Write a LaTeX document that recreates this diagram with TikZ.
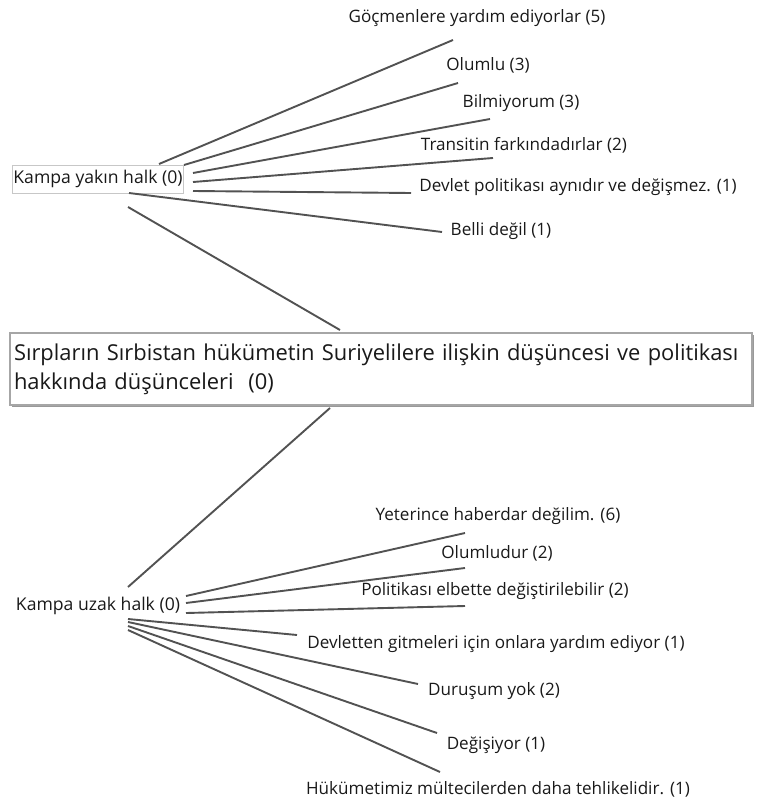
\documentclass[tikz,border=0pt]{standalone}
\usepackage{fontspec}
\setmainfont{Open Sans}
\usetikzlibrary{calc,shadows}
\begin{document}
\begin{tikzpicture}[x=1pt,y=-1pt,
  link/.style={draw=black!68,line width=1.9pt},
  lbl/.style={inner sep=0pt,anchor=center,font=\fontsize{17.1}{20}\selectfont,text=black!90},
  catbox/.style={draw=black!22,line width=1pt,fill=white,inner sep=0pt,minimum width=171pt,minimum height=28pt,font=\fontsize{17.6}{20}\selectfont,text=black!90},
  cat/.style={inner sep=0pt,font=\fontsize{17.6}{20}\selectfont,text=black!90},
  mainbox/.style={draw=black!35,line width=1.5pt,fill=white,minimum width=742pt,minimum height=72pt,inner sep=0pt,
    drop shadow={shadow xshift=1.5pt,shadow yshift=-2pt,fill=black!40,opacity=1},
    font=\fontsize{21.9}{29}\selectfont,align=left,text width=734pt,text=black!90}]
\useasboundingbox (0,0) rectangle (758,800);
% central
\node[mainbox] (c) at (381,369) {Sırpların Sırbistan hükümetin Suriyelilere ilişkin düşüncesi ve politikası\\hakkında düşünceleri~~(0)};
% upper category
\node[catbox] (yak) at (98,179) {Kampa yakın halk (0)};
\node[lbl] (g1) at (477,18) {Göçmenlere yardım ediyorlar (5)};
\node[lbl] (g2) at (488,65) {Olumlu (3)};
\node[lbl] (g3) at (521,103) {Bilmiyorum (3)};
\node[lbl] (g4) at (524,145) {Transitin farkındadırlar (2)};
\node[lbl] (g5) at (578,187) {Devlet politikası aynıdır ve değişmez. (1)};
\node[lbl] (g6) at (501,231) {Belli değil (1)};
% lower category
\node[cat] (uz) at (98,606) {Kampa uzak halk (0)};
\node[lbl] (h1) at (498,516) {Yeterince haberdar değilim. (6)};
\node[lbl] (h2) at (497,553) {Olumludur (2)};
\node[lbl] (h3) at (495,591) {Politikası elbette değiştirilebilir (2)};
\node[lbl] (h4) at (496,644) {Devletten gitmeleri için onlara yardım ediyor (1)};
\node[lbl] (h5) at (494,691) {Duruşum yok (2)};
\node[lbl] (h6) at (496,745) {Değişiyor (1)};
\node[lbl] (h7) at (498,789) {Hükümetimiz mültecilerden daha tehlikelidir. (1)};
% connectors upper
\draw[link] ($(yak.center)+(61,-15)$) -- ($(g1.center)+(-24,22)$);
\draw[link] ($(yak.center)+(86,-14)$) -- ($(g2.center)+(-30,18)$);
\draw[link] ($(yak.center)+(95,-6)$) -- ($(g3.center)+(-31,16)$);
\draw[link] ($(yak.center)+(95,3)$) -- ($(g4.center)+(-31,13)$);
\draw[link] ($(yak.center)+(95,12)$) -- ($(g5.center)+(-167,6)$);
\draw[link] ($(yak.center)+(31,14)$) -- ($(g6.center)+(-59,1)$);
\draw[link] ($(yak.center)+(30,28)$) -- ($(c.center)+(-41,-39)$);
% connectors lower
\draw[link] ($(c.center)+(-51,39)$) -- ($(uz.center)+(30,-19)$);
\draw[link] ($(uz.center)+(88,-10)$) -- ($(h1.center)+(-33,17)$);
\draw[link] ($(uz.center)+(88,-3)$) -- ($(h2.center)+(-32,15)$);
\draw[link] ($(uz.center)+(88,7)$) -- ($(h3.center)+(-30,15)$);
\draw[link] ($(uz.center)+(30,13)$) -- ($(h4.center)+(-199,-9)$);
\draw[link] ($(uz.center)+(30,16)$) -- ($(h5.center)+(-76,-7)$);
\draw[link] ($(uz.center)+(30,20)$) -- ($(h6.center)+(-59,-12)$);
\draw[link] ($(uz.center)+(30,24)$) -- ($(h7.center)+(-58,-17)$);
\end{tikzpicture}
\end{document}
